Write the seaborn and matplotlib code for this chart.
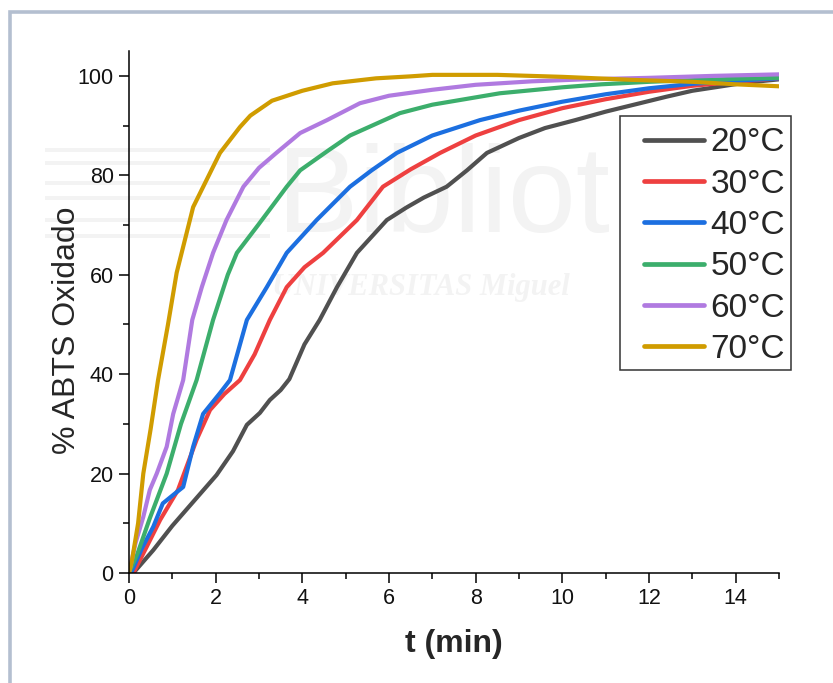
import matplotlib
matplotlib.use("Agg")
import matplotlib.pyplot as plt
from matplotlib.patches import Rectangle
import numpy as np
import pandas as pd
import seaborn as sns

# Oxidation curves of ABTS at several temperatures: time (min) vs % oxidised
t_20 = [0, 0.1, 0.56, 1.0, 1.5, 2.02, 2.4, 2.72, 3.02, 3.25, 3.5, 3.7, 3.85, 4.05, 4.4,
        4.8, 5.26, 5.95, 6.4, 6.8, 7.33, 7.8, 8.26, 9.0, 9.6, 10.3, 11.0, 11.7, 12.4,
        13.0, 13.6, 14.2, 15.0]
v_20 = [0, 0, 4.6, 9.5, 14.5, 19.7, 24.5, 29.8, 32.2, 34.8, 36.8, 39.0, 42.0, 46.0, 50.9,
        57.5, 64.4, 71.0, 73.5, 75.5, 77.7, 81.0, 84.5, 87.5, 89.5, 91.1, 92.8, 94.3, 95.8,
        97.0, 97.8, 98.6, 99.3]

t_30 = [0, 0.1, 0.41, 0.72, 1.13, 1.33, 1.56, 1.87, 2.2, 2.56, 2.9, 3.25, 3.64, 4.05,
        4.48, 5.26, 5.86, 6.5, 7.18, 8.0, 9.0, 10.0, 11.0, 12.0, 13.0, 14.0, 15.0]
v_30 = [0, 0, 5.3, 10.7, 16.7, 21.4, 26.8, 32.8, 36.0, 38.8, 44.0, 50.9, 57.5, 61.5,
        64.4, 71.0, 77.7, 81.2, 84.5, 88.0, 91.1, 93.5, 95.3, 96.8, 98.0, 98.8, 99.5]

t_40 = [0, 0.05, 0.3, 0.56, 0.78, 1.02, 1.25, 1.48, 1.71, 2.1, 2.33, 2.72, 3.18, 3.64,
        4.33, 5.1, 5.6, 6.18, 7.0, 8.1, 9.0, 10.0, 11.0, 12.0, 13.0, 14.0, 15.0]
v_40 = [0, 0, 5.0, 9.3, 14.0, 15.7, 17.3, 25.4, 32.0, 36.2, 38.8, 50.9, 57.5, 64.4,
        71.0, 77.7, 81.0, 84.5, 88.0, 91.1, 93.0, 94.8, 96.3, 97.5, 98.4, 99.0, 99.5]

t_50 = [0, 0.2, 0.48, 0.87, 1.2, 1.56, 1.94, 2.28, 2.49, 2.98, 3.64, 3.95, 4.6, 5.1,
        6.25, 7.0, 8.56, 10.0, 10.9, 12.0, 13.2, 14.0, 15.0]
v_50 = [0, 4.0, 11.0, 20.0, 30.0, 38.8, 50.9, 60.0, 64.4, 70.0, 77.7, 81.0, 85.0, 88.0,
        92.5, 94.2, 96.5, 97.7, 98.3, 98.8, 99.2, 99.4, 99.6]

t_60 = [0, 0.15, 0.33, 0.48, 0.64, 0.87, 1.02, 1.25, 1.46, 1.68, 1.94, 2.25, 2.64, 3.0,
        3.4, 3.95, 4.57, 5.33, 6.0, 7.0, 8.0, 9.3, 10.5, 12.0, 13.5, 15.0]
v_60 = [0, 6.0, 11.3, 16.7, 20.0, 25.4, 32.0, 38.8, 50.9, 57.5, 64.4, 71.0, 77.7, 81.5,
        84.5, 88.5, 91.1, 94.5, 96.0, 97.2, 98.2, 98.9, 99.3, 99.6, 100.0, 100.3]

t_70 = [0, 0.07, 0.21, 0.33, 0.5, 0.67, 0.9, 1.1, 1.48, 1.94, 2.1, 2.56, 2.8, 3.3, 4.0,
        4.7, 5.7, 6.5, 7.0, 8.5, 10.0, 11.6, 13.0, 14.0, 15.0]
v_70 = [0, 2.6, 10.0, 20.0, 29.0, 38.8, 50.0, 60.4, 73.6, 81.7, 84.5, 89.7, 92.0, 95.0,
        97.0, 98.5, 99.5, 99.9, 100.2, 100.2, 99.8, 99.2, 98.8, 98.3, 97.9]

temperatures = ["20°C", "30°C", "40°C", "50°C", "60°C", "70°C"]
series_t = [t_20, t_30, t_40, t_50, t_60, t_70]
series_v = [v_20, v_30, v_40, v_50, v_60, v_70]
colors = ["#505050", "#ee4040", "#1c6fe0", "#3cae6c", "#b07ae0", "#d09c00"]

x_ticks = [0, 2, 4, 6, 8, 10, 12, 14]
y_ticks = [0, 20, 40, 60, 80, 100]

df = pd.concat(
    [pd.DataFrame({"t": tt, "v": vv, "T": lab})
     for tt, vv, lab in zip(series_t, series_v, temperatures)],
    ignore_index=True,
)

sns.set_style("ticks")
plt.rcParams["font.family"] = ["Liberation Sans", "DejaVu Sans"]

W, H = 833, 683
fig = plt.figure(figsize=(W / 100, H / 100), dpi=100)
ax = fig.add_axes([129 / W, 1 - 573 / H, 650 / W, 522 / H])
ax.patch.set_alpha(0)

# faint library watermark behind the curves (kept clear of the legend)
wm = "#f3f3f3"
ax.text(277 / W, 1 - 232 / H, "Bibliot", transform=fig.transFigure,
        fontsize=88, color=wm, zorder=0, clip_on=False)
ax.text(272 / W, 1 - 295 / H, "UNIVERSITAS Miguel", transform=fig.transFigure,
        fontsize=22, color=wm, family="Liberation Serif", fontweight="bold",
        style="italic", zorder=0, clip_on=False)
for yy in (152, 165, 185, 200, 222, 238):
    ax.add_patch(Rectangle((45 / W, 1 - yy / H), 225 / W, 4 / H,
                           transform=fig.transFigure, color=wm, zorder=0,
                           clip_on=False, lw=0))

sns.lineplot(data=df, x="t", y="v", hue="T", hue_order=temperatures,
             palette=dict(zip(temperatures, colors)), estimator=None,
             linewidth=3, ax=ax, legend=True, zorder=2)

ax.set_xlim(0, 15)
ax.set_ylim(0, 105)
ax.set_xticks(x_ticks)
ax.set_yticks(y_ticks)
ax.set_xticks(np.arange(1, 16, 2), minor=True)
ax.set_yticks(np.arange(10, 100, 20), minor=True)
ax.tick_params(which="major", length=7, width=1.1, labelsize=15.5, pad=4,
               color="black", labelcolor="#111111")
ax.tick_params(which="minor", length=4, width=1.1, color="black")
for side in ("top", "right"):
    ax.spines[side].set_visible(False)
for side in ("left", "bottom"):
    ax.spines[side].set_linewidth(1.1)
    ax.spines[side].set_color("black")

ax.set_xlabel("t (min)", fontsize=23, fontweight="bold", labelpad=14)
ax.set_ylabel("% ABTS Oxidado", fontsize=23)
ax.yaxis.set_label_coords(-0.072, 0.4655)

# legend: box drawn separately so its padding can be set freely
ax.add_patch(Rectangle((0.7554, 0.389), 0.263, 0.4866, transform=ax.transAxes,
                       facecolor="white", edgecolor="#333333", linewidth=1.1,
                       zorder=3, clip_on=False))
old = ax.get_legend()
handles = old.legend_handles
labels = [tx.get_text() for tx in old.texts]
for h in handles:
    h.set_linewidth(3.4)
leg = ax.legend(handles, labels, loc="upper left", bbox_to_anchor=(0.792, 0.8535),
                borderaxespad=0, borderpad=0, fontsize=24, frameon=False,
                handlelength=1.8, handletextpad=0.2, labelspacing=0.31)
leg.set_zorder(4)

# light frame around the whole figure
fig.patches.append(Rectangle((10 / W, -0.2), 1.5, 1.2 - 11.5 / H,
                             transform=fig.transFigure, fill=False,
                             edgecolor="#b4bfd0", linewidth=2.6))

fig.savefig("out.png", dpi=100)
